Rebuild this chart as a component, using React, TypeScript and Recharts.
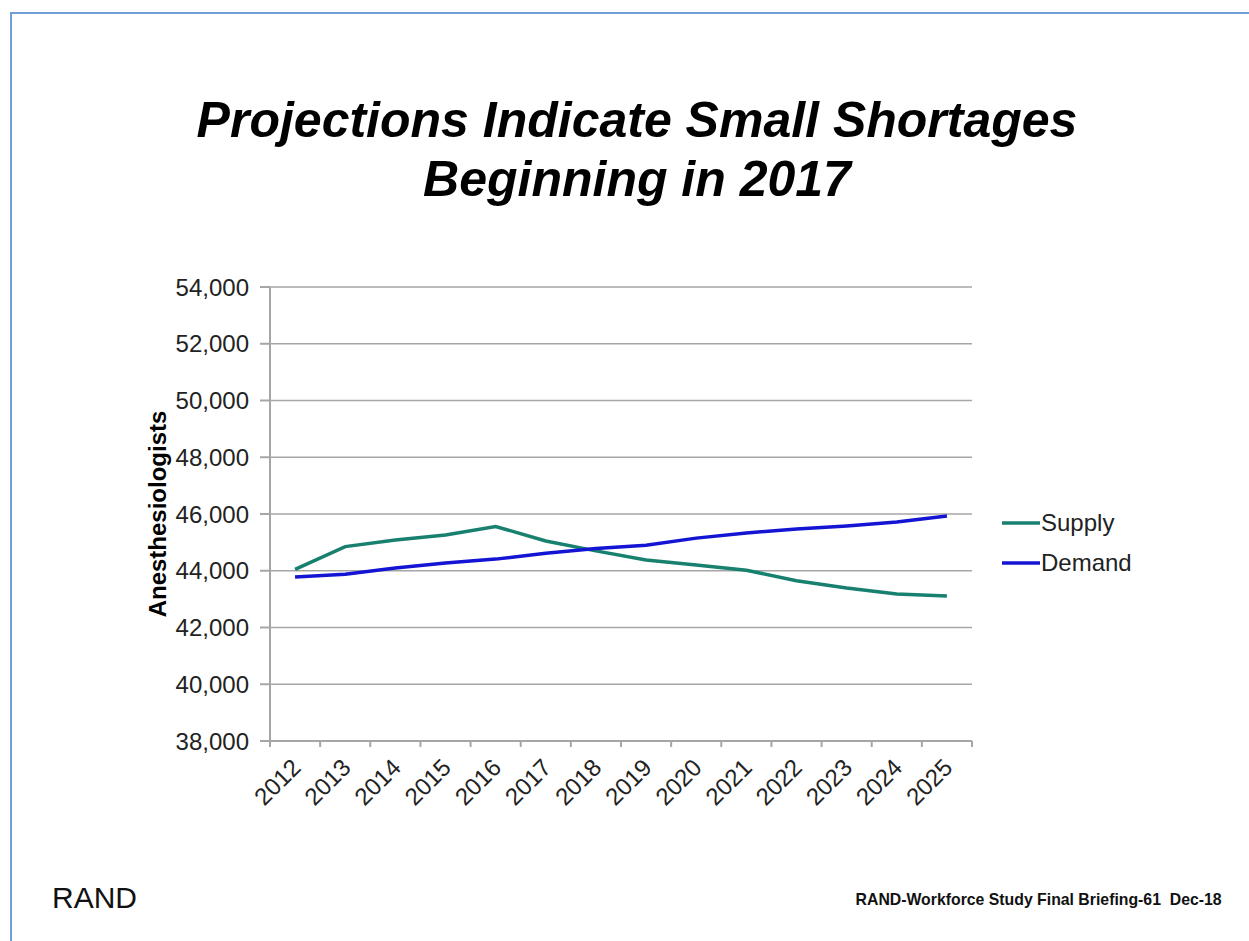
import React from 'react'
import {
  LineChart,
  Line,
  XAxis,
  YAxis,
  CartesianGrid,
  Legend,
} from 'recharts'

const YEARS = [2012, 2013, 2014, 2015, 2016, 2017, 2018, 2019, 2020, 2021, 2022, 2023, 2024, 2025]
const SUPPLY = [44050, 44850, 45080, 45260, 45560, 45050, 44700, 44380, 44200, 44020, 43650, 43390, 43180, 43110]
const DEMAND = [43780, 43880, 44100, 44270, 44410, 44620, 44780, 44900, 45150, 45330, 45470, 45580, 45720, 45930]
const Y_TICKS = [38000, 40000, 42000, 44000, 46000, 48000, 50000, 52000, 54000]
const SERIES_NAMES = ['Supply', 'Demand']

const FONT = '"Liberation Sans", Arial, Helvetica, sans-serif'
const SUPPLY_COLOR = '#17806f'
const DEMAND_COLOR = '#1414d4'
const AXIS_GRAY = '#a6a6a6'

const data = YEARS.map((year, i) => ({ year, supply: SUPPLY[i], demand: DEMAND[i] }))

// tick marks sit between categories, labels on the categories
const xTicks = [YEARS[0] - 0.5, ...YEARS.flatMap((y) => [y, y + 0.5])]

function YearTick({ x, y, payload }: any) {
  const v: number = payload.value
  if (v % 1 !== 0) {
    return <line x1={x} y1={y} x2={x} y2={y + 6} stroke={AXIS_GRAY} strokeWidth={2} />
  }
  const tx = x + 7
  const ty = y + 28
  return (
    <text
      x={tx}
      y={ty}
      textAnchor="end"
      transform={`rotate(-45 ${tx} ${ty})`}
      fontSize={24}
      fontFamily={FONT}
      fill="#222"
    >
      {v}
    </text>
  )
}

function LegendBox({ payload }: any) {
  const items = SERIES_NAMES.map((n) => payload.find((p: any) => p.value === n)).filter(Boolean)
  return (
    <div style={{ fontFamily: FONT, fontSize: 24, color: '#222' }}>
      {items.map((p: any) => (
        <div key={p.value} style={{ display: 'flex', alignItems: 'center', height: 40 }}>
          <svg width={38} height={6} style={{ marginRight: 1 }}>
            <line x1={0} y1={3} x2={38} y2={3} stroke={p.color} strokeWidth={3.5} />
          </svg>
          <span>{p.value}</span>
        </div>
      ))}
    </div>
  )
}

export default function App() {
  return (
    <div style={{
      position: 'absolute',
      left: 0,
      top: 0,
      width: 1249,
      height: 941,
      overflow: 'hidden',
      background: '#fff',
    }}>
      <div style={{
        position: 'absolute',
        left: 10,
        top: 12,
        width: 1300,
        height: 1000,
        border: '2px solid #6f9fd6',
      }} />
      <div style={{
        position: 'absolute',
        left: 0,
        top: 91,
        width: 1274,
        textAlign: 'center',
        fontFamily: FONT,
        fontSize: 50,
        fontWeight: 'bold',
        fontStyle: 'italic',
        lineHeight: '59px',
        color: '#000',
      }}>
        Projections Indicate Small Shortages<br />Beginning in 2017
      </div>

      <div style={{ position: 'absolute', left: 0, top: 0 }}>
        <LineChart
          width={1249}
          height={941}
          data={data}
          margin={{ top: 287, right: 277, left: 170, bottom: 120 }}
        >
          <CartesianGrid vertical={false} stroke={AXIS_GRAY} strokeWidth={1.5} />
          <XAxis
            dataKey="year"
            type="number"
            domain={[YEARS[0] - 0.5, YEARS[YEARS.length - 1] + 0.5]}
            ticks={xTicks}
            interval={0}
            tick={<YearTick />}
            tickLine={false}
            tickSize={0}
            tickMargin={0}
            axisLine={{ stroke: AXIS_GRAY, strokeWidth: 2 }}
            height={80}
          />
          <YAxis
            domain={[38000, 54000]}
            ticks={Y_TICKS}
            interval={0}
            tickFormatter={(v: number) => v.toLocaleString('en-US')}
            tick={{ fontSize: 24, fill: '#222', fontFamily: FONT }}
            tickSize={10}
            tickMargin={11}
            tickLine={{ stroke: AXIS_GRAY, strokeWidth: 2 }}
            axisLine={{ stroke: AXIS_GRAY, strokeWidth: 2 }}
            width={100}
            label={{
              value: 'Anesthesiologists',
              angle: -90,
              position: 'left',
              offset: 13,
              style: { textAnchor: 'middle', fontSize: 24, fontWeight: 'bold', fontFamily: FONT, fill: '#000' },
            }}
          />
          <Legend
            layout="vertical"
            align="center"
            verticalAlign="middle"
            content={<LegendBox />}
            wrapperStyle={{ left: 1002, top: 503, width: 200 }}
          />
          <Line
            type="linear"
            dataKey="supply"
            name="Supply"
            stroke={SUPPLY_COLOR}
            strokeWidth={3.5}
            dot={false}
            isAnimationActive={false}
          />
          <Line
            type="linear"
            dataKey="demand"
            name="Demand"
            stroke={DEMAND_COLOR}
            strokeWidth={3.5}
            dot={false}
            isAnimationActive={false}
          />
        </LineChart>
      </div>

      <div style={{
        position: 'absolute',
        left: 52,
        top: 881,
        fontFamily: FONT,
        fontSize: 30,
        color: '#111',
      }}>
        RAND
      </div>
      <div style={{
        position: 'absolute',
        right: 27,
        top: 890,
        fontFamily: FONT,
        fontSize: 17,
        fontWeight: 'bold',
        color: '#111',
        whiteSpace: 'pre',
        transform: 'scaleX(0.93)',
        transformOrigin: 'right center',
      }}>
        RAND-Workforce Study Final Briefing-61  Dec-18
      </div>
    </div>
  )
}
